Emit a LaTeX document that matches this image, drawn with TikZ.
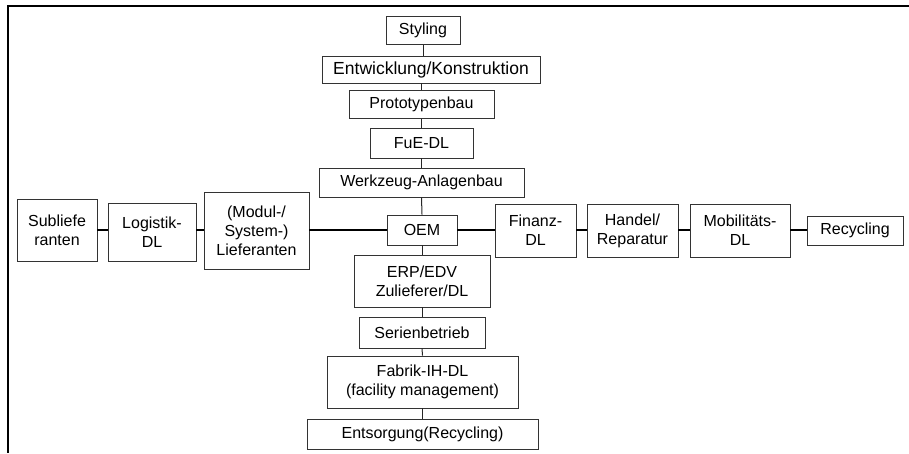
\documentclass[tikz,border=0pt]{standalone}
\usepackage{fontspec}
\setmainfont{Liberation Sans}
\begin{document}
\begin{tikzpicture}[x=1pt,y=-1pt,
  box/.style={draw=black!80,line width=0.9pt,fill=white,inner sep=0pt,align=center,
    font=\fontsize{16}{19}\selectfont},
  vline/.style={line width=1pt,black!85},
  hline/.style={line width=2.4pt,black}]
\useasboundingbox (0,0) rectangle (909,453);
\draw[line width=1.5pt] (909,6) -- (8,6) -- (8,453);
% central column
\node[box,minimum width=74pt,minimum height=28pt] (sty) at (423,30.5) {Styling};
\node[box,minimum width=218pt,minimum height=27pt,font=\fontsize{17.5}{20}\selectfont] (ent) at (431,69.5) {Entwicklung/Konstruktion};
\node[box,minimum width=145pt,minimum height=28pt] (pro) at (421.5,104.5) {Prototypenbau};
\node[box,minimum width=103pt,minimum height=30pt] (fue) at (421.5,143) {FuE-DL};
\node[box,minimum width=205pt,minimum height=29pt] (wer) at (421.5,182.5) {Werkzeug-Anlagenbau};
\node[box,minimum width=70pt,minimum height=30pt] (oem) at (422,230) {OEM};
\node[box,minimum width=136pt,minimum height=52pt] (erp) at (422,281) {ERP/EDV\\Zulieferer/DL};
\node[box,minimum width=126pt,minimum height=31pt] (ser) at (422,332.5) {Serienbetrieb};
\node[box,minimum width=191pt,minimum height=52pt] (fab) at (422.5,382) {Fabrik-IH-DL\\(facility management)};
\node[box,minimum width=231pt,minimum height=30pt] (ents) at (422.5,434) {Entsorgung(Recycling)};
% horizontal chain
\node[box,minimum width=80pt,minimum height=62pt] (sub) at (57,230) {Subliefe\\ranten};
\node[box,minimum width=88pt,minimum height=58pt] (log) at (152,232) {Logistik-\\DL};
\node[box,minimum width=105pt,minimum height=77pt] (mod) at (256.5,230.5) {(Modul-/\\System-)\\Lieferanten};
\node[box,minimum width=81pt,minimum height=53pt] (fin) at (535.5,230.5) {Finanz-\\DL};
\node[box,minimum width=91pt,minimum height=53pt] (han) at (632.5,230.5) {Handel/\\Reparatur};
\node[box,minimum width=100pt,minimum height=53pt] (mob) at (740,230.5) {Mobilitäts-\\DL};
\node[box,minimum width=96pt,minimum height=29pt] (rec) at (855,230.5) {Recycling};
% vertical connectors
\draw[vline] (sty.south) -- (sty.south |- ent.north);
\draw[vline] (pro.north) -- (pro.north |- ent.south);
\draw[vline] (pro.south) -- (fue.north);
\draw[vline] (fue.south) -- (wer.north);
\draw[vline] (wer.south) -- (oem.north);
\draw[vline] (oem.south) -- (erp.north);
\draw[vline] (erp.south) -- (ser.north);
\draw[vline] (ser.south) -- (fab.north);
\draw[vline] (fab.south) -- (ents.north);
% horizontal connectors
\draw[hline] (sub.east |- oem) -- (log.west |- oem);
\draw[hline] (log.east |- oem) -- (mod.west |- oem);
\draw[hline] (mod.east |- oem) -- (oem.west);
\draw[hline] (oem.east) -- (fin.west |- oem);
\draw[hline] (fin.east |- oem) -- (han.west |- oem);
\draw[hline] (han.east |- oem) -- (mob.west |- oem);
\draw[hline] (mob.east |- oem) -- (rec.west |- oem);
\end{tikzpicture}
\end{document}
